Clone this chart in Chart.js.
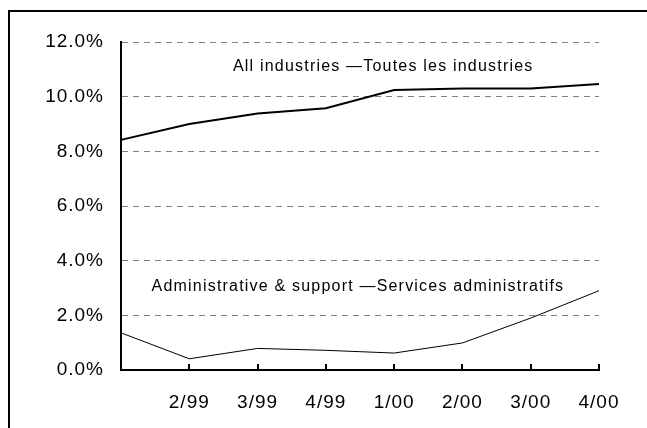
<!DOCTYPE html>
<html>
<head>
<meta charset="utf-8">
<script src="https://cdn.jsdelivr.net/npm/chart.js@4.4.1/dist/chart.umd.min.js"></script>
<style>
  html, body { margin: 0; padding: 0; background: #fff; overflow: hidden; }
  #frame { position: absolute; left: 8px; top: 10px; width: 900px; height: 700px; border: 2px solid #000; }
  #chart { position: absolute; left: 0; top: 0; }
</style>
</head>
<body>
<div id="frame"></div>
<canvas id="chart" width="647" height="428"></canvas>
<script>
  // quarters (first one has no label in the original)
  const quarters = ['', '2/99', '3/99', '4/99', '1/00', '2/00', '3/00', '4/00'];

  // percentages
  const allIndustries = [8.42, 9.0, 9.38, 9.58, 10.24, 10.3, 10.3, 10.46];
  const adminSupport = [1.36, 0.41, 0.79, 0.72, 0.62, 0.99, 1.9, 2.9];

  // text labels placed in data space: [category index, value]
  const seriesLabels = ['All industries \u2014Toutes les industries', 'Administrative & support \u2014Services administratifs'];
  const labelSpots = [[3.84, 11.1], [3.47, 3.04]];

  const yTicks = [0, 2, 4, 6, 8, 10, 12];

  const FONT = '"Liberation Sans", Arial, sans-serif';

  // the original text is set a little loose
  const spacing = {
    id: 'spacing',
    beforeLayout(chart) { chart.ctx.letterSpacing = '1px'; },
    beforeDraw(chart) { chart.ctx.letterSpacing = '1px'; }
  };

  // labels written on the plot, plus the small tick marks that point up from the x axis
  const extras = {
    id: 'extras',
    afterDraw(chart) {
      const ctx = chart.ctx;
      const x = chart.scales.x;
      const y = chart.scales.y;
      ctx.save();
      ctx.strokeStyle = '#000';
      ctx.lineWidth = 2;
      for (let i = 1; i < quarters.length; i++) {
        const px = Math.round(x.getPixelForTick(i));
        ctx.beginPath();
        ctx.moveTo(px, y.bottom);
        ctx.lineTo(px, y.bottom - 6);
        ctx.stroke();
      }
      ctx.fillStyle = '#000';
      ctx.font = '16px ' + FONT;
      ctx.letterSpacing = '1.2px';
      ctx.textAlign = 'center';
      ctx.textBaseline = 'middle';
      seriesLabels.forEach((txt, i) => {
        const [ci, v] = labelSpots[i];
        const px = x.getPixelForValue(0) + (x.getPixelForValue(1) - x.getPixelForValue(0)) * ci;
        ctx.fillText(txt, px, y.getPixelForValue(v));
      });
      ctx.restore();
    }
  };

  new Chart(document.getElementById('chart'), {
    type: 'line',
    data: {
      labels: quarters,
      datasets: [{
        label: seriesLabels[0],
        data: allIndustries,
        borderColor: '#000',
        borderWidth: 2,
        pointRadius: 0,
        tension: 0
      }, {
        label: seriesLabels[1],
        data: adminSupport,
        borderColor: '#000',
        borderWidth: 1,
        pointRadius: 0,
        tension: 0
      }]
    },
    options: {
      responsive: false,
      animation: false,
      layout: { padding: { left: 0, top: 42, right: 48, bottom: 0 } },
      plugins: {
        legend: { display: false },
        tooltip: { enabled: false }
      },
      scales: {
        x: {
          offset: false,
          grid: { display: true, drawOnChartArea: false, drawTicks: false },
          border: { display: true, color: '#000', width: 2 },
          ticks: {
            color: '#000',
            font: { family: FONT, size: 19 },
            padding: 21,
            maxRotation: 0,
            autoSkip: false
          },
          afterFit(scale) { scale.height = 58; }
        },
        y: {
          min: 0,
          max: 12,
          afterBuildTicks(scale) { scale.ticks = yTicks.map(v => ({ value: v })); },
          grid: {
            color: (c) => c.tick && c.tick.value === 0 ? 'rgba(0,0,0,0)' : '#808080',
            lineWidth: 1,
            drawTicks: false
          },
          border: { display: true, color: '#000', width: 2, dash: [6, 5] },
          ticks: {
            color: '#000',
            font: { family: FONT, size: 19 },
            padding: 17,
            callback: (v) => v.toFixed(1) + '%'
          },
          afterFit(scale) { scale.width = 121; }
        }
      }
    },
    plugins: [spacing, extras]
  });
</script>
</body>
</html>
